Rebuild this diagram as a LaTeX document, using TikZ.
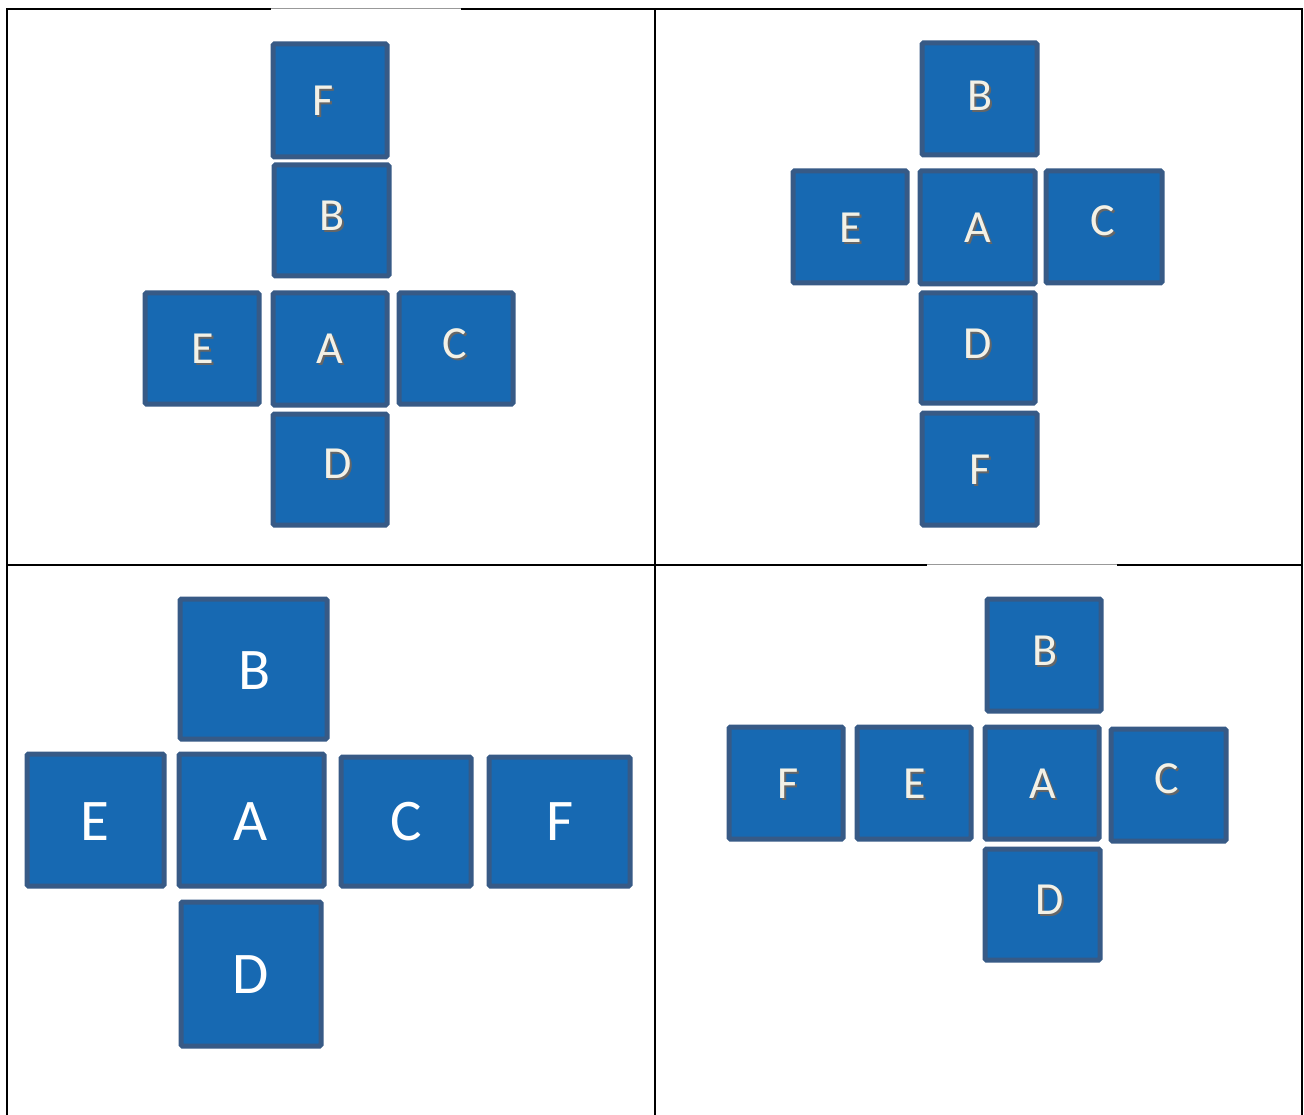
\documentclass[tikz,border=0pt]{standalone}
\usepackage{fontspec}
\setmainfont{Carlito}
\definecolor{faceblue}{HTML}{1769B2}
\definecolor{faceedge}{HTML}{375A86}
\definecolor{facetext}{HTML}{F3F1E6}
\newcommand{\shadowtxt}[1]{\rlap{\hspace{2pt}\raisebox{-2pt}{\textcolor{black!60}{#1}}}#1}

\begin{document}
\begin{tikzpicture}[x=1pt,y=-1pt,
  facebox/.style={fill=faceblue, draw=faceedge, line width=5pt, rounded corners=1.5pt},
  facelbl/.style={font=\fontsize{46}{46}\selectfont, text=facetext, inner sep=0pt},
  biglbl/.style={font=\fontsize{59}{59}\selectfont, text=white, inner sep=0pt},
  gridline/.style={line width=2pt, black},
  thinline/.style={line width=1pt, black!40}]
\useasboundingbox[fill=white] (0,0) rectangle (1304,1115);

% table lines
\draw[gridline] (7,1115) -- (7,9) -- (271,9);
\draw[thinline] (271,8.5) -- (461,8.5);
\draw[gridline] (461,9) -- (1302,9) -- (1302,1115);
\draw[gridline] (655,9) -- (655,1115);
\draw[gridline] (7,565) -- (927,565);
\draw[thinline] (927,564.5) -- (1117,564.5);
\draw[gridline] (1117,565) -- (1302,565);

% top left
\draw[facebox] (273,44) rectangle (387,157);
\node[facelbl] (tlF) at (323,102) {\shadowtxt{F}};
\draw[facebox] (274,165) rectangle (389,276);
\node[facelbl] (tlB) at (332,217) {\shadowtxt{B}};
\draw[facebox] (145,293) rectangle (259,404);
\node[facelbl] (tlE) at (203,350) {\shadowtxt{E}};
\draw[facebox] (273,293) rectangle (387,405);
\node[facelbl] (tlA) at (330,350) {\shadowtxt{A}};
\draw[facebox] (399,293) rectangle (513,404);
\node[facelbl] (tlC) at (455,345) {\shadowtxt{C}};
\draw[facebox] (273,414) rectangle (387,525);
\node[facelbl] (tlD) at (338,465) {\shadowtxt{D}};

% top right
\draw[facebox] (922,43) rectangle (1037,155);
\node[facelbl] (trB) at (980,97) {\shadowtxt{B}};
\draw[facebox] (793,171) rectangle (907,283);
\node[facelbl] (trE) at (851,229) {\shadowtxt{E}};
\draw[facebox] (920,171) rectangle (1035,284);
\node[facelbl] (trA) at (978,229) {\shadowtxt{A}};
\draw[facebox] (1046,171) rectangle (1162,283);
\node[facelbl] (trC) at (1103,222) {\shadowtxt{C}};
\draw[facebox] (921,293) rectangle (1035,403);
\node[facelbl] (trD) at (978,345) {\shadowtxt{D}};
\draw[facebox] (922,413) rectangle (1037,525);
\node[facelbl] (trF) at (980,471) {\shadowtxt{F}};

% bottom left
\draw[facebox] (180,599) rectangle (327,739);
\node[biglbl] (blB) at (255,671) {B};
\draw[facebox] (27,754) rectangle (164,886);
\node[biglbl] (blE) at (95,822) {E};
\draw[facebox] (179,754) rectangle (324,886);
\node[biglbl] (blA) at (251,822) {A};
\draw[facebox] (341,757) rectangle (471,886);
\node[biglbl] (blC) at (406,822) {C};
\draw[facebox] (489,757) rectangle (630,886);
\node[biglbl] (blF) at (560,822) {F};
\draw[facebox] (181,902) rectangle (321,1046);
\node[biglbl] (blD) at (251,975) {D};

% bottom right
\draw[facebox] (987,599) rectangle (1101,711);
\node[facelbl] (brB) at (1045,652) {\shadowtxt{B}};
\draw[facebox] (729,727) rectangle (843,839);
\node[facelbl] (brF) at (788,785) {\shadowtxt{F}};
\draw[facebox] (857,727) rectangle (971,839);
\node[facelbl] (brE) at (915,785) {\shadowtxt{E}};
\draw[facebox] (985,727) rectangle (1099,839);
\node[facelbl] (brA) at (1043,785) {\shadowtxt{A}};
\draw[facebox] (1111,729) rectangle (1226,841);
\node[facelbl] (brC) at (1167,780) {\shadowtxt{C}};
\draw[facebox] (985,849) rectangle (1100,960);
\node[facelbl] (brD) at (1050,901) {\shadowtxt{D}};
\end{tikzpicture}
\end{document}
